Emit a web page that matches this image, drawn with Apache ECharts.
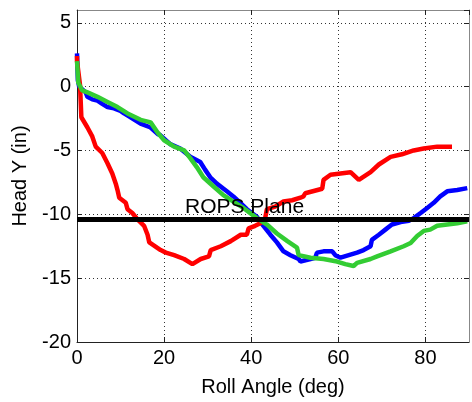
<!DOCTYPE html>
<html><head><meta charset="utf-8">
<script src="https://cdn.jsdelivr.net/npm/echarts@6/dist/echarts.min.js"></script>
<style>html,body{margin:0;padding:0;background:#fff}#c{width:472px;height:402px}</style>
</head><body><div id="c"></div>
<script>
// Roll angle (deg) and head Y (in) for each trace
const redAngle = [0, 0, 0.7, 1.0, 2.4, 3.5, 4.3, 5.8, 7.0, 8.1, 8.9, 9.3, 9.7, 11.2, 11.6, 12.7, 13.9, 15.4, 16.2, 16.6, 19.2, 20.4, 22.3, 24.6, 26.5, 28.4, 30.3, 30.7, 33.0, 35.3, 37.6, 39.0, 39.4, 40.9, 42.1, 43.2, 43.6, 45.5, 47.4, 49.4, 51.3, 52.0, 52.4, 56.3, 56.6, 58.2, 60.5, 62.8, 64.7, 67.4, 69.3, 72.0, 74.6, 77.3, 79.6, 82.7, 86.1];
const redY     = [2.4, 2.0, 0.1, -2.4, -3.2, -3.9, -4.7, -5.2, -6.0, -6.8, -7.6, -8.1, -8.7, -9.1, -9.6, -9.9, -10.4, -10.9, -11.6, -12.2, -12.8, -13.0, -13.2, -13.5, -13.9, -13.5, -13.3, -12.8, -12.5, -12.1, -11.6, -11.6, -11.1, -10.9, -10.7, -10.3, -9.6, -9.4, -9.0, -8.9, -8.7, -8.6, -8.35, -8.0, -7.3, -6.9, -6.8, -6.7, -7.3, -6.7, -6.1, -5.5, -5.3, -5.0, -4.85, -4.7, -4.7];

const blueAngle = [0, 0.2, 0.5, 2.0, 2.4, 3.5, 4.7, 5.8, 7.0, 8.5, 10.0, 10.8, 12.3, 14.6, 16.9, 18.5, 19.1, 21.4, 23.7, 26.0, 28.3, 29.4, 30.6, 32.1, 34.4, 35.9, 37.5, 39.0, 41.3, 42.8, 44.4, 45.9, 47.4, 49.0, 50.9, 51.3, 53.6, 54.7, 55.1, 56.6, 58.6, 59.3, 60.5, 62.4, 64.3, 65.8, 67.4, 67.7, 69.3, 70.8, 72.3, 74.3, 76.2, 77.3, 78.9, 80.4, 81.9, 83.4, 85.0, 87.3, 89.6];
const blueY     = [2.6, 0.5, 0, -0.45, -0.8, -1.0, -1.1, -1.35, -1.6, -1.7, -1.9, -2.1, -2.4, -2.9, -3.2, -3.7, -3.8, -4.5, -4.85, -5.5, -5.9, -6.5, -7.1, -7.6, -8.2, -8.6, -9.1, -9.6, -10.2, -10.9, -11.6, -12.2, -12.9, -13.2, -13.5, -13.7, -13.5, -13.4, -13.0, -12.9, -12.9, -13.2, -13.4, -13.2, -13.0, -12.8, -12.5, -12.0, -11.6, -11.2, -10.8, -10.6, -10.5, -10.3, -9.9, -9.5, -9.1, -8.6, -8.2, -8.1, -7.95];

const greenAngle = [0, 0.3, 1.2, 2.4, 4.7, 7.0, 9.3, 11.6, 14.6, 16.9, 18.5, 20.0, 22.3, 24.6, 26.0, 27.5, 29.0, 31.3, 33.6, 35.9, 38.2, 41.3, 43.6, 45.9, 48.3, 50.5, 50.9, 53.6, 56.6, 59.7, 61.6, 63.5, 64.3, 67.4, 68.9, 72.0, 75.0, 76.6, 78.1, 79.6, 81.1, 82.7, 85.0, 87.3, 89.6];
const greenY     = [2.0, 0.3, -0.3, -0.45, -0.8, -1.2, -1.6, -2.1, -2.6, -2.8, -3.6, -4.2, -4.7, -5.0, -5.6, -6.3, -7.1, -7.8, -8.5, -9.0, -9.5, -10.3, -10.8, -11.5, -12.1, -12.6, -13.2, -13.4, -13.5, -13.7, -13.9, -14.05, -13.8, -13.5, -13.3, -12.9, -12.5, -12.25, -11.7, -11.3, -11.2, -10.9, -10.8, -10.7, -10.55];

const ropsAngle = [0, 90];
const ropsY = [-10.4, -10.4];
const ropsLabel = 'ROPS Plane';
const ropsLabelAngle = 24.8;

const xTicks = {min: 0, max: 90, interval: 20};
const yTicks = {min: -20, max: 6, interval: 5};

function pairs(a, b) { return a.map((v, i) => [v, b[i]]); }

const FONT = 'Liberation Sans';
const chart = echarts.init(document.getElementById('c'), null, {renderer: 'canvas'});

const grid = {left: 77, right: 3, top: 10, bottom: 60, containLabel: false};
const dotted = {show: true, lineStyle: {type: [1, 3], color: '#333', width: 1}};

chart.setOption({
  animation: false,
  backgroundColor: '#fff',
  grid: grid,
  xAxis: [{
    type: 'value', min: xTicks.min, max: xTicks.max, interval: xTicks.interval, position: 'bottom',
    axisLine: {show: true, onZero: false, lineStyle: {color: '#222', width: 1}},
    axisTick: {show: true, inside: true, length: 5, lineStyle: {color: '#222'}},
    axisLabel: {showMaxLabel: false, color: '#000', fontSize: 20, fontFamily: FONT, margin: 6},
    splitLine: dotted,
    name: 'Roll Angle (deg)', nameLocation: 'middle', nameGap: 35,
    nameTextStyle: {color: '#000', fontSize: 20, fontFamily: FONT}
  }, {
    type: 'value', min: xTicks.min, max: xTicks.max, interval: xTicks.interval, position: 'top',
    axisLine: {show: true, onZero: false, lineStyle: {color: '#888', width: 1}},
    axisTick: {show: true, inside: true, length: 5, lineStyle: {color: '#222'}},
    axisLabel: {show: false}, splitLine: {show: false}
  }],
  yAxis: [{
    type: 'value', min: yTicks.min, max: yTicks.max, interval: yTicks.interval, position: 'left',
    axisLine: {show: true, onZero: false, lineStyle: {color: '#222', width: 1}},
    axisTick: {show: true, inside: true, length: 5, lineStyle: {color: '#222'}},
    axisLabel: {showMaxLabel: false, color: '#000', fontSize: 20, fontFamily: FONT, margin: 6},
    splitLine: dotted,
    name: 'Head Y (in)', nameLocation: 'middle', nameGap: 47, nameRotate: 90,
    nameTextStyle: {color: '#000', fontSize: 20, fontFamily: FONT}
  }, {
    type: 'value', min: yTicks.min, max: yTicks.max, interval: yTicks.interval, position: 'right',
    axisLine: {show: true, onZero: false, lineStyle: {color: '#888', width: 1}},
    axisTick: {show: true, inside: true, length: 5, lineStyle: {color: '#222'}},
    axisLabel: {show: false}, splitLine: {show: false}
  }],
  series: [
    {type: 'line', name: 'blue', data: pairs(blueAngle, blueY), symbol: 'none', z: 2,
     lineStyle: {color: '#0000ff', width: 4.5}, itemStyle: {color: '#0000ff'}},
    {type: 'line', name: 'red', data: pairs(redAngle, redY), symbol: 'none', z: 3,
     lineStyle: {color: '#ff0000', width: 4.5}, itemStyle: {color: '#ff0000'}},
    {type: 'line', name: 'green', data: pairs(greenAngle, greenY), symbol: 'none', z: 4,
     lineStyle: {color: '#33cc33', width: 4.5}, itemStyle: {color: '#33cc33'}},
    {type: 'line', name: 'rops', data: pairs(ropsAngle, ropsY), symbol: 'none', z: 5,
     lineStyle: {color: '#000', width: 5}, itemStyle: {color: '#000'},
     markPoint: {
       symbol: 'circle', symbolSize: 0, silent: true,
       data: [{coord: [ropsLabelAngle, ropsY[0]],
         label: {show: true, formatter: ropsLabel, position: [0, -2], align: 'left', verticalAlign: 'bottom',
                 color: '#000', fontSize: 21, fontFamily: FONT}}]
     }}
  ]
});
</script>
</body></html>
